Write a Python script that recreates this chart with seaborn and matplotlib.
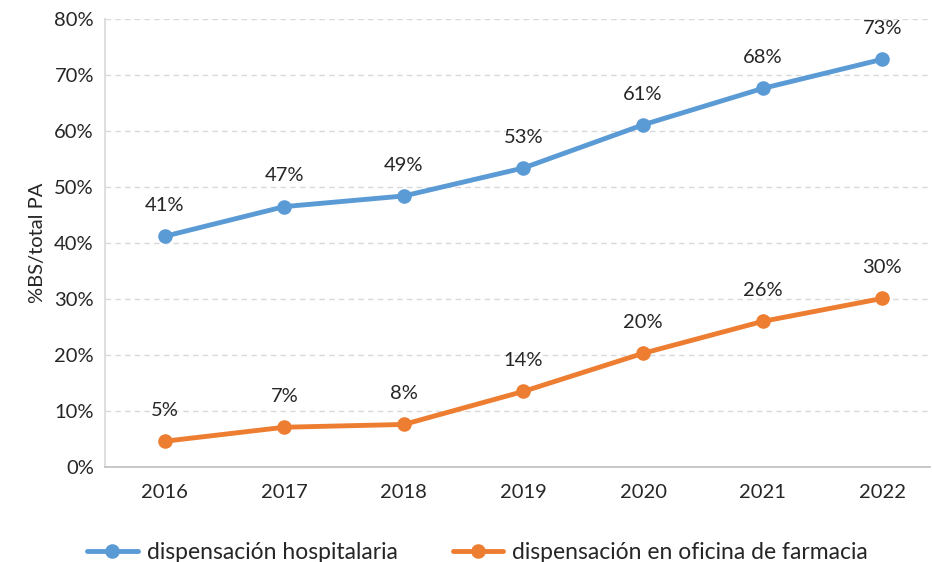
import matplotlib
matplotlib.use("Agg")
import matplotlib.pyplot as plt
import seaborn as sns
import pandas as pd
from matplotlib.ticker import FuncFormatter

years = [2016, 2017, 2018, 2019, 2020, 2021, 2022]
hospitalaria = [41.2, 46.5, 48.4, 53.4, 61.1, 67.6, 72.8]
farmacia = [4.6, 7.1, 7.6, 13.5, 20.3, 26.0, 30.1]
labels_hosp = ["41%", "47%", "49%", "53%", "61%", "68%", "73%"]
labels_farm = ["5%", "7%", "8%", "14%", "20%", "26%", "30%"]
series_names = ["dispensación hospitalaria", "dispensación en oficina de farmacia"]
yticks = [0, 10, 20, 30, 40, 50, 60, 70, 80]

sns.set_theme(style="white")
plt.rcParams['font.family'] = ['Lato', 'DejaVu Sans']

df = pd.DataFrame({
    "pos": list(range(len(years))) * 2,
    "year": years * 2,
    "value": hospitalaria + farmacia,
    "serie": [series_names[0]] * len(years) + [series_names[1]] * len(years),
})

colors = {series_names[0]: "#5B9BD5", series_names[1]: "#ED7D31"}

fig = plt.figure(figsize=(9.32, 5.62), dpi=100)
ax = fig.add_axes([105/932, 1 - 467/562, (930-105)/932, (467-19)/562])

sns.lineplot(data=df, x="pos", y="value", hue="serie", palette=colors,
             marker="o", markersize=10.5, linewidth=3.5, markeredgewidth=0,
             ax=ax, legend=True)

for i in range(len(years)):
    ax.annotate(labels_hosp[i], (i, hospitalaria[i]), xytext=(0, 16),
                textcoords="offset points", ha="center", va="bottom",
                fontsize=14.5, color="#262626")
    ax.annotate(labels_farm[i], (i, farmacia[i]), xytext=(0, 16),
                textcoords="offset points", ha="center", va="bottom",
                fontsize=14.5, color="#262626")

ax.set_xlim(-0.5, 6.4)
ax.set_ylim(0, 80)
ax.set_yticks(yticks)
ax.yaxis.set_major_formatter(FuncFormatter(lambda v, p: f"{int(v)}%"))
ax.set_xticks(range(len(years)))
ax.set_xticklabels([str(y) for y in years])
ax.tick_params(axis="both", labelsize=14.5, colors="#262626", length=0, pad=8)
ax.tick_params(axis="x", pad=12)
ax.set_xlabel("")
ax.set_ylabel("%BS/total PA", fontsize=14.5, color="#262626", labelpad=6)

ax.yaxis.grid(True, linestyle=(0, (4, 3)), color="#D9D9D9", linewidth=1)
ax.set_axisbelow(True)
for s in ["top", "right"]:
    ax.spines[s].set_visible(False)
ax.spines["left"].set_color("#D9D9D9")
ax.spines["bottom"].set_color("#BFBFBF")
ax.spines["bottom"].set_linewidth(1.2)

leg = ax.legend(loc="lower center", bbox_to_anchor=(0.5 - 40/825, -0.26),
                ncol=2, frameon=False, fontsize=16.5, handlelength=2.2,
                columnspacing=2.4, handletextpad=0.4)
for txt in leg.get_texts():
    txt.set_color("#262626")

fig.savefig("out.png", dpi=100)
